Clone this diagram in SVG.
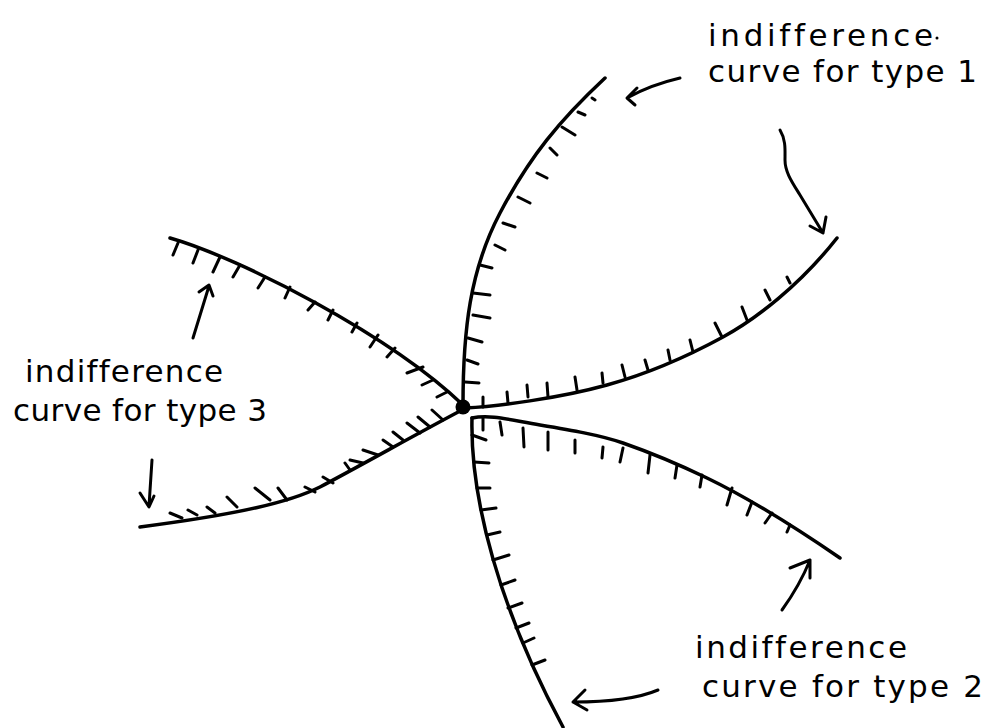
<svg xmlns="http://www.w3.org/2000/svg" width="999" height="728" viewBox="0 0 999 728">
<style>
.crv{fill:none;stroke:#000;stroke-width:3.5;stroke-linecap:round;stroke-linejoin:round}
.tk{fill:none;stroke:#000;stroke-width:3;stroke-linecap:round}
.arr{fill:none;stroke:#000;stroke-width:3;stroke-linecap:round;stroke-linejoin:round}
.lbl{font-family:"DejaVu Sans","Liberation Sans",sans-serif;font-size:31px;fill:#000;font-variant-ligatures:none}
</style>
<rect width="999" height="728" fill="#fff"/>
<g id="type1-curve">
<path class="crv" d="M463,405 C463,330 470,270 500,213 S560,120 605,78"/>
<path class="tk" d="M465,382 L479,383 M467,360 L478,364 M468,338 L482,342 M473,315 L490,318 M473,293 L490,295 M480,265 L492,268 M495,245 L505,250 M503,223 L515,227 M518,197 L530,203 M537,173 L547,178 M550,148 L557,155 M562,127 L575,135 M578,112 L585,115 M592,98 L595,100"/>
<path class="crv" d="M465,408 C500,406 560,398 607,385 S690,355 723,337 S800,285 837,238"/>
<path class="tk" d="M483,407 L483,397 M508,403 L507,392 M528,397 L527,385 M548,397 L547,383 M577,390 L575,377 M603,383 L602,373 M625,377 L622,365 M648,370 L645,360 M670,360 L668,350 M693,352 L690,340 M722,337 L715,323 M747,320 L742,307 M770,300 L765,290 M790,283 L787,277"/>
</g>
<g id="type2-curve">
<path class="crv" d="M472,418 C490,414 510,420 540,425 S600,435 623,443 S680,465 707,478 S770,510 840,558"/>
<path class="tk" d="M483,418 L483,430 M500,422 L502,435 M523,428 L524,447 M548,432 L548,450 M575,440 L575,453 M603,447 L602,458 M623,448 L620,462 M650,455 L648,473 M677,465 L675,478 M702,475 L700,487 M732,488 L727,505 M752,502 L747,515 M772,513 L765,523 M790,525 L787,532"/>
<path class="crv" d="M472,418 C470,500 500,610 563,727"/>
<path class="tk" d="M472,435 L486,440 M474,462 L489,463 M477,488 L490,488 M481,510 L496,508 M487,535 L500,532 M493,560 L509,555 M501,585 L515,580 M508,608 L522,603 M516,628 L529,623 M523,643 L534,638 M532,665 L545,660"/>
</g>
<g id="type3-curve">
<path class="crv" d="M170,238 C240,258 390,335 463,405"/>
<path class="tk" d="M178,243 L173,255 M198,250 L193,263 M220,257 L213,272 M240,265 L233,277 M265,277 L258,288 M290,287 L285,298 M315,302 L308,310 M333,310 L328,320 M357,323 L352,332 M378,335 L370,347 M395,348 L387,357 M423,367 L407,373 M433,380 L422,385 M447,392 L437,397"/>
<path class="crv" d="M462,410 C420,432 360,466 320,487 C290,502 240,514 140,527"/>
<path class="tk" d="M443,420 L432,410 M430,427 L418,417 M420,433 L407,423 M403,440 L393,432 M393,447 L383,440 M378,455 L363,450 M363,463 L350,460 M350,470 L345,463 M333,483 L323,477 M315,492 L305,487 M287,500 L278,488 M270,500 L255,488 M237,507 L227,497 M215,513 L207,507 M197,515 L188,510 M182,518 L170,513"/>
</g>
<g id="intersection">
<circle cx="463" cy="407" r="7.5" fill="#000"/>
</g>
<g id="label-type1">
<text class="lbl" x="708" y="46" textLength="225" lengthAdjust="spacing">indifference</text>
<circle cx="937" cy="38" r="1.5" fill="#000"/>
<text class="lbl" x="708" y="82" textLength="269" lengthAdjust="spacing">curve for type 1</text>
</g>
<g id="label-type2">
<text class="lbl" x="695" y="658" textLength="212" lengthAdjust="spacing">indifference</text>
<text class="lbl" x="702" y="697" textLength="281" lengthAdjust="spacing">curve for type 2</text>
</g>
<g id="label-type3">
<text class="lbl" x="25" y="382" textLength="198" lengthAdjust="spacing">indifference</text>
<text class="lbl" x="13" y="421" textLength="254" lengthAdjust="spacing">curve for type 3</text>
</g>
<g id="connectors">
<path class="arr" d="M680,78 Q650,85 627,98 M637,88 L627,98 L635,105"/>
<path class="arr" d="M780,130 C786,140 785,150 785,160 C785,172 792,182 800,195 L823,233 M810,226 L823,233 L826,217"/>
<path class="arr" d="M193,338 L209,286 M199,292 L209,285 L213,296"/>
<path class="arr" d="M152,460 L149,506 M140,493 L149,507 L154,496"/>
<path class="arr" d="M782,610 Q800,585 810,560 M790,568 L810,560 L810,578"/>
<path class="arr" d="M658,690 Q630,702 573,702 M585,690 L573,702 L587,710"/>
</g>
</svg>
